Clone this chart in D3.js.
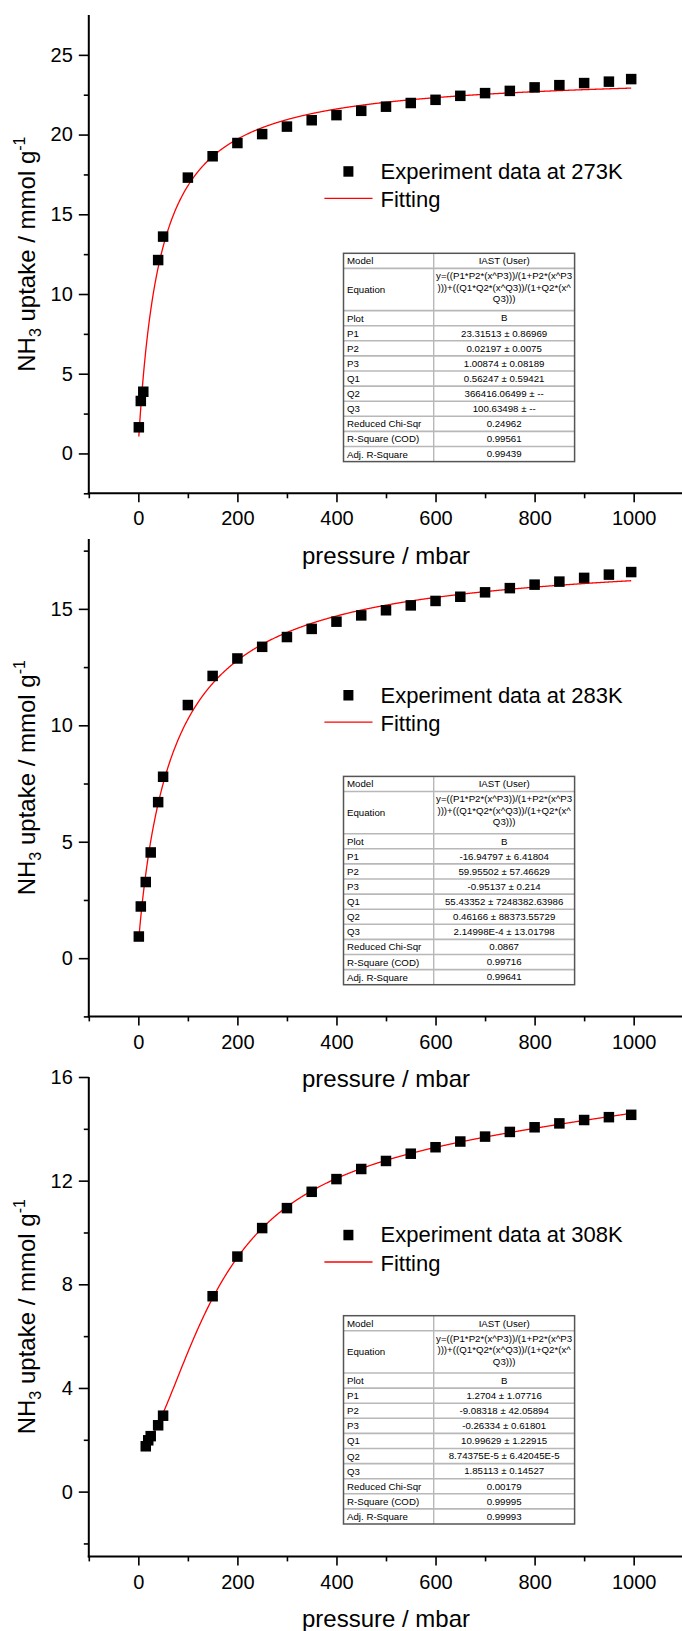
<!DOCTYPE html>
<html>
<head>
<meta charset="utf-8">
<script src="https://cdn.jsdelivr.net/npm/d3@7"></script>
<style>
  body { margin: 0; background: #fff; }
  svg { display: block; }
  text { font-family: "Liberation Sans", Arial, Helvetica, sans-serif; fill: #000; }
</style>
</head>
<body>
<svg id="chart" width="682" height="1631"></svg>
<script>
// ---- Measured NH3 uptake (pressure in mbar, uptake in mmol/g) ----
const pressure273 = [1, 5, 10, 40, 50, 100, 150, 200, 250, 300, 350, 400, 450, 500, 550, 600, 650, 700, 750, 800, 850, 900, 950, 995];
const uptake273   = [1.64, 3.29, 3.87, 12.13, 13.6, 17.3, 18.64, 19.47, 20.03, 20.5, 20.9, 21.22, 21.49, 21.75, 21.98, 22.18, 22.43, 22.6, 22.74, 22.96, 23.1, 23.23, 23.32, 23.48];

const pressure283 = [1, 5, 15, 25, 40, 50, 100, 150, 200, 250, 300, 350, 400, 450, 500, 550, 600, 650, 700, 750, 800, 850, 900, 950, 995];
const uptake283   = [0.93, 2.22, 3.27, 4.54, 6.70, 7.79, 10.87, 12.12, 12.87, 13.37, 13.79, 14.14, 14.45, 14.72, 14.94, 15.15, 15.34, 15.52, 15.71, 15.89, 16.04, 16.17, 16.33, 16.47, 16.58];

const pressure308 = [15, 20, 25, 40, 50, 150, 200, 250, 300, 350, 400, 450, 500, 550, 600, 650, 700, 750, 800, 850, 900, 950, 995];
const uptake308   = [1.75, 1.98, 2.14, 2.56, 2.93, 7.54, 9.07, 10.17, 10.94, 11.57, 12.06, 12.45, 12.76, 13.04, 13.29, 13.51, 13.70, 13.88, 14.06, 14.21, 14.34, 14.45, 14.54];

// ---- Fit results (P1, P2, P3, Q1, Q2, Q3) with standard errors ----
const paramNames = ["P1", "P2", "P3", "Q1", "Q2", "Q3"];
const params273 = ["23.31513", "0.02197", "1.00874", "0.56247", "366416.06499", "100.63498"];
const errors273 = ["0.86969", "0.0075", "0.08189", "0.59421", "--", "--"];
const stats273  = ["0.24962", "0.99561", "0.99439"];

const params283 = ["-16.94797", "59.95502", "-0.95137", "55.43352", "0.46166", "2.14998E-4"];
const errors283 = ["6.41804", "57.46629", "0.214", "7248382.63986", "88373.55729", "13.01798"];
const stats283  = ["0.0867", "0.99716", "0.99641"];

const params308 = ["1.2704", "-9.08318", "-0.26334", "10.99629", "8.74375E-5", "1.85113"];
const errors308 = ["1.07716", "42.05894", "0.61801", "1.22915", "6.42045E-5", "0.14527"];
const stats308  = ["0.00179", "0.99995", "0.99993"];

// Fitted-curve pressure span for each temperature
const fitRange273 = [1, 995];
const fitRange283 = [1, 995];
const fitRange308 = [15, 995];

const statNames = ["Reduced Chi-Sqr", "R-Square (COD)", "Adj. R-Square"];
const equationLines = ["y=((P1*P2*(x^P3))/(1+P2*(x^P3", ")))+((Q1*Q2*(x^Q3))/(1+Q2*(x^", "Q3)))"];

// Ticks
const xMajor = [0, 200, 400, 600, 800, 1000];
const xMinor = [-100, 100, 300, 500, 700, 900, 1100];
const yMajor273 = [0, 5, 10, 15, 20, 25];
const yMinor273 = [-2.5, 2.5, 7.5, 12.5, 17.5, 22.5];
const yMajor283 = [0, 5, 10, 15];
const yMinor283 = [-2.5, 2.5, 7.5, 12.5, 17.5];
const yMajor308 = [0, 4, 8, 12, 16];
const yMinor308 = [-2, 2, 6, 10, 14];

// ---- Layout of the three stacked panels ----
const panels = [
  { temp: "273K", px: pressure273, py: uptake273, params: params273, errors: errors273, stats: stats273, fitRange: fitRange273,
    yDomain: [-2.5, 27.5], top: 15, bottom: 493.3, yMajor: yMajor273, yMinor: yMinor273, legendY: 171.4, tableTop: 253.3 },
  { temp: "283K", px: pressure283, py: uptake283, params: params283, errors: errors283, stats: stats283, fitRange: fitRange283,
    yDomain: [-2.5, 18], top: 539, bottom: 1016.4, yMajor: yMajor283, yMinor: yMinor283, legendY: 695.2, tableTop: 776.4 },
  { temp: "308K", px: pressure308, py: uptake308, params: params308, errors: errors308, stats: stats308, fitRange: fitRange308,
    yDomain: [-2.5, 16], top: 1077, bottom: 1556.4, yMajor: yMajor308, yMinor: yMinor308, legendY: 1235, tableTop: 1315.7 }
];

const svg = d3.select("#chart");
const axisLeftX = 88.8;
const x = d3.scaleLinear().domain([-100, 1100]).range([axisLeftX, 683.2]);

// Dual-site Langmuir–Freundlich model from the table's equation
const frac = b => (isFinite(b) ? b / (1 + b) : 1);
function model(p, v) {
  const a = p[1] * Math.pow(v, p[2]);
  const b = p[4] * Math.pow(v, p[5]);
  return p[0] * frac(a) + p[3] * frac(b);
}

panels.forEach(pn => {
  const g = svg.append("g");
  const y = d3.scaleLinear().domain(pn.yDomain).range([pn.bottom, pn.top]);

  // Y axis
  const yMinorAxis = d3.axisLeft(y).tickValues(pn.yMinor).tickSize(5).tickSizeOuter(0).tickFormat("");
  const yMajorAxis = d3.axisLeft(y).tickValues(pn.yMajor).tickSize(10).tickSizeOuter(0).tickPadding(6).tickFormat(d3.format("d"));
  const gy1 = g.append("g").attr("transform", `translate(${axisLeftX},0)`).call(yMinorAxis);
  const gy2 = g.append("g").attr("transform", `translate(${axisLeftX},0)`).call(yMajorAxis);

  // X axis
  const xMinorAxis = d3.axisBottom(x).tickValues(xMinor).tickSize(5).tickSizeOuter(0).tickFormat("");
  const xMajorAxis = d3.axisBottom(x).tickValues(xMajor).tickSize(9).tickSizeOuter(0).tickPadding(9).tickFormat(d3.format("d"));
  const gx1 = g.append("g").attr("transform", `translate(0,${pn.bottom})`).call(xMinorAxis);
  const gx2 = g.append("g").attr("transform", `translate(0,${pn.bottom})`).call(xMajorAxis);

  [gy1, gy2, gx1, gx2].forEach(ax => {
    ax.select(".domain").remove();
    ax.selectAll(".tick line").attr("stroke", "#000").attr("stroke-width", 1.6);
    ax.selectAll(".tick text").attr("font-size", 20).attr("fill", "#000")
      .style("font-family", '"Liberation Sans", Arial, sans-serif');
  });

  // Axis lines
  g.append("line").attr("x1", axisLeftX).attr("x2", axisLeftX).attr("y1", pn.top).attr("y2", pn.bottom + 1)
    .attr("stroke", "#000").attr("stroke-width", 2);
  g.append("line").attr("x1", axisLeftX - 1).attr("x2", 682).attr("y1", pn.bottom).attr("y2", pn.bottom)
    .attr("stroke", "#000").attr("stroke-width", 2);

  // Axis titles
  g.append("text").attr("x", 386).attr("y", pn.bottom + 70.5).attr("text-anchor", "middle")
    .attr("font-size", 24).text("pressure / mbar");

  const yt = g.append("text")
    .attr("transform", `translate(35,${(pn.top + pn.bottom) / 2}) rotate(-90)`)
    .attr("text-anchor", "middle").attr("font-size", 24);
  yt.append("tspan").text("NH");
  yt.append("tspan").attr("font-size", 16).attr("dy", 6).text("3");
  yt.append("tspan").attr("dy", -6).text(" uptake / mmol g");
  yt.append("tspan").attr("font-size", 16).attr("dy", -10).text("-1");

  // Fitted curve
  const p = pn.params.map(Number);
  const xs = d3.range(pn.fitRange[0], pn.fitRange[1] + 0.001, 1);
  const line = d3.line().x(d => x(d)).y(d => y(model(p, d)));
  g.append("path").datum(xs).attr("d", line)
    .attr("fill", "none").attr("stroke", "#ff0000").attr("stroke-width", 1.3);

  // Experimental points
  const sz = 10.5;
  g.append("g").selectAll("rect").data(pn.px.map((v, i) => [v, pn.py[i]])).join("rect")
    .attr("x", d => x(d[0]) - sz / 2).attr("y", d => y(d[1]) - sz / 2)
    .attr("width", sz).attr("height", sz).attr("fill", "#000");

  // Legend
  const ly = pn.legendY;
  g.append("rect").attr("x", 348.4 - 5).attr("y", ly - 5.2).attr("width", 10).attr("height", 10.5).attr("fill", "#000");
  g.append("text").attr("x", 380.5).attr("y", ly + 7.3).attr("font-size", 22).text(`Experiment data at ${pn.temp}`);
  g.append("line").attr("x1", 324.4).attr("x2", 372.5).attr("y1", ly + 27).attr("y2", ly + 27)
    .attr("stroke", "#ff0000").attr("stroke-width", 1.3);
  g.append("text").attr("x", 380.5).attr("y", ly + 36).attr("font-size", 22).text("Fitting");

  // Fit-result table
  const tx0 = 343.5, tx1 = 433.7, tx2 = 574.6;
  const rowH = 15.1, eqH = 42.2;
  const rows = [
    { label: "Model", value: ["IAST (User)"], h: rowH },
    { label: "Equation", value: equationLines, h: eqH },
    { label: "Plot", value: ["B"], h: rowH },
    ...paramNames.map((n, i) => ({ label: n, value: [`${pn.params[i]} \u00b1 ${pn.errors[i]}`], h: rowH })),
    ...statNames.map((n, i) => ({ label: n, value: [pn.stats[i]], h: rowH }))
  ];
  const tg = g.append("g");
  let yy = pn.tableTop;
  const fs = 9.7;
  rows.forEach((r, ri) => {
    if (ri > 0) {
      tg.append("line").attr("x1", tx0).attr("x2", tx2).attr("y1", yy).attr("y2", yy)
        .attr("stroke", "#b8b8b8").attr("stroke-width", 1.6);
    }
    const midBase = yy + r.h / 2 + 3.5;
    tg.append("text").attr("x", tx0 + 3.5).attr("y", midBase).attr("font-size", fs).attr("fill", "#222").text(r.label);
    if (r.value.length === 1) {
      tg.append("text").attr("x", (tx1 + tx2) / 2).attr("y", yy + 10.8).attr("text-anchor", "middle")
        .attr("font-size", fs).attr("fill", "#222").text(r.value[0]);
    } else {
      r.value.forEach((s, k) => {
        tg.append("text").attr("x", (tx1 + tx2) / 2).attr("y", yy + 10.8 + k * 11.5).attr("text-anchor", "middle")
          .attr("font-size", fs).attr("fill", "#222").text(s);
      });
    }
    yy += r.h;
  });
  tg.append("line").attr("x1", tx1).attr("x2", tx1).attr("y1", pn.tableTop).attr("y2", yy)
    .attr("stroke", "#b8b8b8").attr("stroke-width", 1.4);
  tg.append("rect").attr("x", tx0).attr("y", pn.tableTop).attr("width", tx2 - tx0).attr("height", yy - pn.tableTop)
    .attr("fill", "none").attr("stroke", "#555").attr("stroke-width", 1.5);
});
</script>
</body>
</html>
